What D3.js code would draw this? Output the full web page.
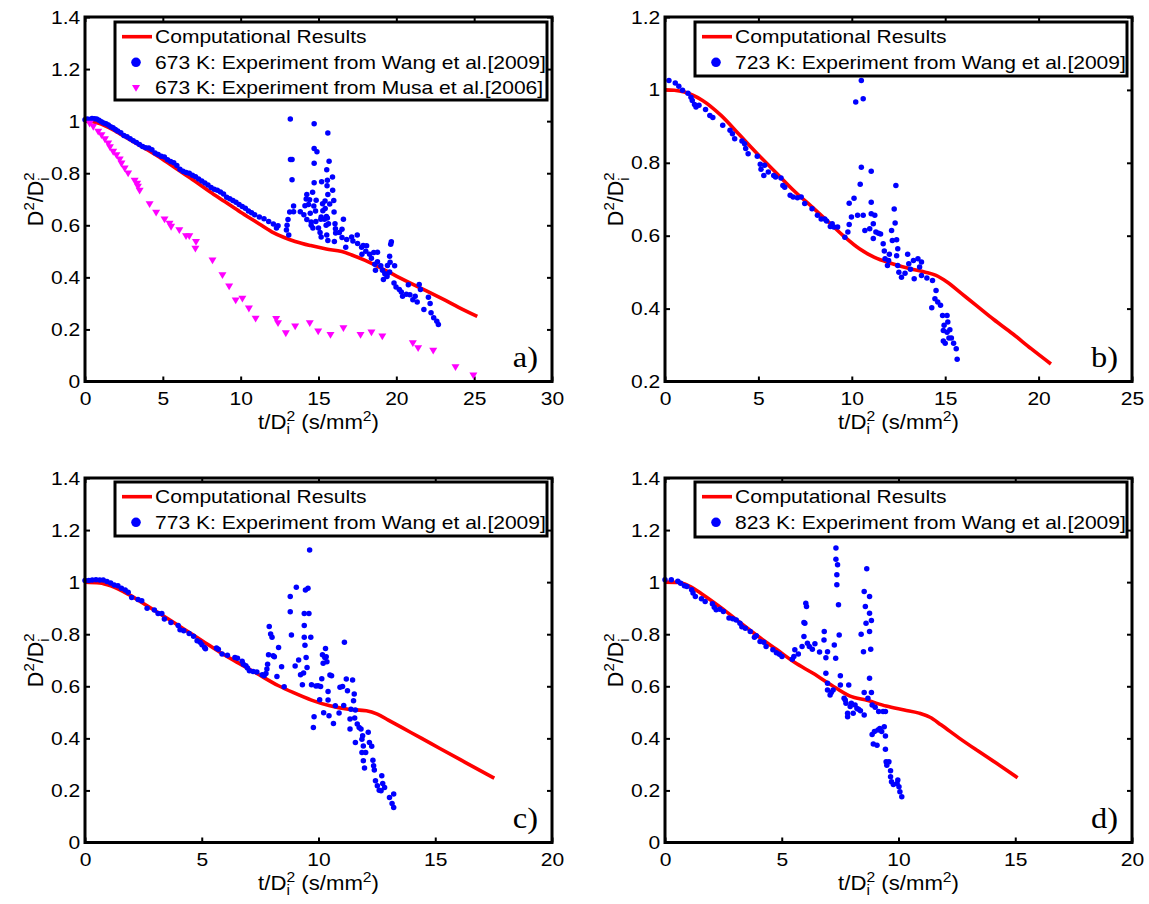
<!DOCTYPE html>
<html><head><meta charset="utf-8">
<script src="https://cdn.jsdelivr.net/npm/d3@7"></script>
<style>body{margin:0;background:#fff}svg text{font-family:"Liberation Sans",Arial,Helvetica,sans-serif;fill:#000}</style>
</head><body><svg id="c" width="1149" height="904"></svg>
<script>
// ---------- DATA ----------
const xTicksA=[0,5,10,15,20,25,30], yTicksA=[0,0.2,0.4,0.6,0.8,1,1.2,1.4];
const xTicksB=[0,5,10,15,20,25], yTicksB=[0.2,0.4,0.6,0.8,1,1.2];
const xTicksC=[0,5,10,15,20], yTicksC=[0,0.2,0.4,0.6,0.8,1,1.2,1.4];
const xTicksD=[0,5,10,15,20], yTicksD=[0,0.2,0.4,0.6,0.8,1,1.2,1.4];
const panelLabels=["a)","b)","c)","d)"];
const legendA=["Computational Results","673 K: Experiment from Wang et al.[2009]","673 K: Experiment from Musa et al.[2006]"];
const legendB=["Computational Results","723 K: Experiment from Wang et al.[2009]"];
const legendC=["Computational Results","773 K: Experiment from Wang et al.[2009]"];
const legendD=["Computational Results","823 K: Experiment from Wang et al.[2009]"];

const modelA=[[0,1],[0.5,0.998],[1,0.99],[2,0.96],[3,0.925],[4,0.89],[5,0.853],[6,0.812],[7,0.772],[8,0.73],[9,0.69],[10,0.65],[11,0.613],[12,0.575],[12.8,0.553],[13.5,0.538],[14.5,0.522],[15.5,0.509],[16.5,0.499],[17.1,0.487],[18,0.465],[19,0.436],[20,0.405],[21,0.375],[22,0.346],[23,0.316],[24,0.285],[25.2,0.25]];
const modelB=[[0,1],[0.5,0.999],[1.04,0.994],[2.01,0.971],[3,0.93],[4,0.876],[4.94,0.825],[6,0.77],[6.89,0.724],[8,0.673],[8.85,0.633],[9.63,0.596],[10.41,0.564],[11.19,0.541],[12.17,0.523],[13.14,0.509],[13.93,0.5],[14.51,0.491],[15.1,0.473],[15.88,0.441],[16.66,0.409],[17.6,0.37],[18.61,0.331],[19.6,0.29],[20.66,0.248]];
const modelC=[[0,1],[0.63,0.997],[1.1,0.986],[1.88,0.952],[2.66,0.909],[3.5,0.862],[4.23,0.82],[5,0.776],[5.79,0.73],[6.6,0.688],[7.36,0.649],[8.29,0.602],[8.92,0.576],[9.7,0.547],[10.49,0.525],[11.27,0.512],[12.05,0.506],[12.52,0.493],[12.99,0.47],[13.62,0.439],[14.4,0.401],[15.18,0.362],[16.3,0.307],[17.53,0.247]];
const modelD=[[0,1],[0.55,0.999],[1.02,0.986],[1.64,0.951],[2.43,0.9],[3.21,0.845],[4.0,0.791],[4.77,0.742],[5.56,0.691],[6.34,0.65],[7.12,0.605],[7.9,0.563],[8.69,0.545],[9.47,0.524],[10.25,0.509],[10.88,0.497],[11.35,0.481],[11.82,0.452],[12.6,0.401],[13.38,0.353],[14.2,0.304],[15.1,0.249]];

const wangA=[[0,1.005],[0.15,1.008],[0.3,1.006],[0.45,1.01],[0.6,1.009],[0.75,1.008],[0.9,1.003],[1.05,0.998],[1.2,0.993],[1.35,0.99],[1.5,0.985],[1.65,0.978],[1.8,0.975],[1.95,0.968],[2.1,0.962],[2.3,0.955],[2.5,0.945],[2.7,0.94],[2.9,0.932],[3.1,0.925],[3.3,0.918],[3.5,0.91],[3.7,0.903],[3.9,0.898],[4.1,0.897],[4.3,0.89],[4.5,0.878],[4.7,0.872],[4.9,0.865],[5.1,0.862],[5.3,0.852],[5.5,0.845],[5.7,0.84],[5.9,0.83],[6.1,0.815],[6.3,0.808],[6.5,0.803],[6.7,0.8],[6.9,0.792],[7.1,0.786],[7.3,0.778],[7.5,0.77],[7.7,0.762],[7.9,0.755],[8.1,0.745],[8.3,0.738],[8.5,0.735],[8.7,0.728],[8.9,0.72],[9.1,0.708],[9.3,0.702],[9.5,0.695],[9.7,0.688],[9.9,0.68],[10.1,0.672],[10.3,0.665],[10.5,0.655],[10.7,0.648],[10.9,0.64],[11.2,0.632],[11.5,0.625],[11.8,0.615],[12.1,0.605],[12.3,0.59],[12.4,0.598],
[13.19,1.008],[14.72,0.99],[15.6,0.954],[13.2,0.853],[13.3,0.853],[14.72,0.895],[14.9,0.882],[14.72,0.838],[15.68,0.846],[15.53,0.813],[13.3,0.775],[14.72,0.763],[15.57,0.773],[15.9,0.785],[15.2,0.767],[15.55,0.752],[15.91,0.735],[15.6,0.718],[15.98,0.695],[15.72,0.682],[14.62,0.727],[14.25,0.718],[14.21,0.701],[14.43,0.698],[14.85,0.696],[15.42,0.693],[15.26,0.683],[13.4,0.674],[14.13,0.675],[14.36,0.68],[14.7,0.674],[14.81,0.655],[15.28,0.656],[15.43,0.664],[13.15,0.651],[13.4,0.652],[13.83,0.652],[14.06,0.64],[14.47,0.646],[15.17,0.632],[15.51,0.634],[16.0,0.651],[13.04,0.622],[14.25,0.622],[14.53,0.613],[14.83,0.615],[15.15,0.623],[15.38,0.623],[15.57,0.628],[16.6,0.623],[12.98,0.6],[12.94,0.582],[14.53,0.6],[14.64,0.59],[15.0,0.59],[15.49,0.6],[15.64,0.606],[16.06,0.606],[13.09,0.563],[15.1,0.572],[15.53,0.563],[15.6,0.542],[16.09,0.587],[16.1,0.57],[16.34,0.572],[16.51,0.585],[16.02,0.538],[15.17,0.555],
[16.51,0.553],[16.81,0.545],[16.75,0.516],[17.13,0.555],[17.49,0.563],[17.21,0.54],[17.51,0.53],[17.77,0.516],[17.87,0.522],[18.09,0.521],[17.79,0.489],[18.04,0.5],[18.28,0.489],[18.4,0.473],[18.55,0.495],[18.79,0.496],[18.62,0.45],[18.79,0.46],[19.0,0.445],[18.66,0.427],[19.11,0.427],[19.26,0.414],[19.43,0.446],[19.6,0.458],[19.89,0.445],[19.57,0.481],[19.64,0.527],[19.68,0.537],[19.4,0.412],[19.57,0.421],[19.17,0.392],[19.4,0.403],[19.85,0.378],[19.98,0.363],[20.19,0.353],[20.32,0.344],[20.4,0.327],[20.64,0.335],[20.77,0.372],[20.87,0.333],[21.06,0.314],[21.21,0.327],[21.34,0.305],[21.47,0.373],[21.55,0.353],[21.77,0.277],[22.06,0.324],[22.17,0.3],[22.23,0.264],[22.4,0.245],[22.6,0.231],[22.7,0.219]];

const musaA=[[0.3,0.99],[0.53,0.978],[0.85,0.959],[1.06,0.946],[1.28,0.93],[1.49,0.914],[1.6,0.9],[1.81,0.882],[2.02,0.869],[2.23,0.853],[2.34,0.837],[2.55,0.818],[2.77,0.799],[3.19,0.771],[3.35,0.76],[3.4,0.748],[3.51,0.733],[4.15,0.681],[4.57,0.648],[5.11,0.622],[5.43,0.606],[5.53,0.594],[6.06,0.581],[6.49,0.558],[6.7,0.558],[7.13,0.536],[7.09,0.51],[8.19,0.465],[8.83,0.408],[9.26,0.365],[9.68,0.311],[10.11,0.318],[10.53,0.28],[10.96,0.241],[12.28,0.24],[12.4,0.224],[12.9,0.185],[13.5,0.211],[14.44,0.224],[14.98,0.192],[15.77,0.179],[16.6,0.205],[17.7,0.179],[18.4,0.188],[19.1,0.173],[21.06,0.147],[21.4,0.128],[22.37,0.118],[23.8,0.055],[24.95,0.023]];

const wangB=[[0.21,1.026],[0.55,1.019],[0.74,1.01],[0.94,0.999],[1.23,0.991],[1.39,0.98],[1.46,0.971],[1.58,0.96],[1.66,0.953],[1.82,0.958],[2.17,0.946],[2.4,0.93],[2.56,0.924],[3.09,0.903],[3.48,0.889],[3.61,0.88],[3.73,0.866],[4.12,0.86],[4.26,0.852],[4.32,0.839],[4.45,0.825],[4.94,0.818],[5.1,0.796],[5.14,0.782],[5.29,0.765],[5.33,0.793],[5.53,0.775],[5.82,0.765],[5.92,0.761],[6.21,0.758],[6.31,0.738],[6.41,0.733],[6.7,0.711],[6.86,0.706],[7.09,0.704],[7.29,0.706],[7.48,0.688],[7.87,0.674],[8.16,0.656],[8.36,0.646],[8.55,0.646],[8.65,0.64],[8.85,0.625],[8.95,0.633],[9.04,0.624],[9.24,0.624],[9.63,0.596],[9.79,0.61],[9.86,0.631],[9.98,0.651],[9.86,0.689],[10.12,0.703],[10.31,0.656],[10.61,0.656],[10.7,0.614],[10.96,0.619],[10.45,0.741],[10.51,0.788],[11.04,0.777],[11.04,0.692],[11.04,0.66],[11.15,0.633],[11.15,0.592],[11.23,0.656],[11.29,0.61],[11.43,0.607],[11.54,0.605],[11.68,0.578],[11.74,0.558],[11.78,0.537],[11.91,0.518],[11.97,0.532],[12.01,0.549],[12.13,0.614],[12.17,0.587],[12.27,0.673],[12.32,0.635],[12.36,0.738],[12.4,0.589],[12.4,0.545],[12.46,0.564],[12.46,0.518],[12.52,0.5],[12.66,0.486],[12.85,0.497],[12.99,0.549],[13.05,0.523],[13.14,0.508],[13.3,0.532],[13.34,0.482],[13.54,0.537],[13.63,0.514],[13.73,0.528],[13.73,0.491],[14.02,0.484],[14.32,0.477],[14.28,0.402],[14.51,0.45],[14.45,0.427],[14.6,0.418],[14.75,0.409],[14.86,0.381],[14.94,0.354],[14.9,0.34],[14.9,0.311],[15.0,0.305],[15.1,0.381],[15.14,0.363],[15.1,0.335],[15.25,0.342],[15.2,0.319],[15.33,0.319],[15.45,0.305],[15.59,0.29],[15.64,0.261],[10.21,0.967],[10.61,0.976],[10.51,1.026]];

const wangC=[[0,1.006],[0.16,1.006],[0.31,1.008],[0.47,1.009],[0.63,1.008],[0.78,1.008],[0.94,1.002],[1.1,0.997],[1.25,0.989],[1.41,0.986],[1.56,0.977],[1.72,0.97],[1.85,0.961],[2.0,0.941],[2.27,0.933],[2.43,0.929],[2.66,0.9],[2.97,0.893],[3.13,0.88],[3.29,0.88],[3.4,0.858],[3.68,0.845],[3.99,0.833],[4.07,0.817],[4.23,0.813],[4.46,0.803],[4.65,0.792],[4.8,0.775],[4.93,0.769],[5.01,0.76],[5.12,0.749],[5.16,0.744],[5.63,0.747],[5.71,0.742],[5.87,0.724],[6.1,0.719],[6.42,0.711],[6.53,0.708],[6.73,0.696],[6.78,0.685],[6.89,0.679],[6.96,0.67],[7.04,0.66],[7.2,0.657],[7.36,0.655],[7.59,0.644],[7.67,0.64],[7.75,0.649],[7.82,0.685],[7.79,0.666],[7.86,0.721],[7.89,0.83],[7.95,0.801],[8.01,0.788],[8.06,0.717],[8.11,0.713],[8.22,0.638],[8.29,0.749],[8.42,0.675],[8.53,0.598],[8.79,0.945],[8.79,0.886],[8.84,0.797],[9.0,0.678],[9.05,0.98],[9.15,0.701],[9.23,0.644],[9.31,0.606],[9.36,0.651],[9.39,0.833],[9.39,0.88],[9.39,0.788],[9.42,0.758],[9.44,0.97],[9.47,0.711],[9.51,0.672],[9.55,0.977],[9.59,0.88],[9.62,1.123],[9.67,0.788],[9.7,0.606],[9.78,0.442],[9.81,0.483],[9.89,0.601],[9.98,0.602],[10.05,0.548],[10.09,0.599],[10.14,0.629],[10.17,0.721],[10.2,0.688],[10.22,0.498],[10.27,0.711],[10.3,0.745],[10.33,0.713],[10.36,0.694],[10.41,0.58],[10.41,0.547],[10.45,0.487],[10.49,0.643],[10.56,0.64],[10.64,0.457],[10.72,0.525],[10.88,0.497],[10.92,0.596],[11.03,0.599],[11.08,0.526],[11.11,0.769],[11.19,0.628],[11.24,0.583],[11.35,0.436],[11.35,0.474],[11.39,0.512],[11.46,0.624],[11.5,0.544],[11.53,0.57],[11.55,0.478],[11.58,0.509],[11.58,0.384],[11.66,0.455],[11.74,0.442],[11.82,0.436],[11.86,0.397],[11.86,0.346],[11.89,0.41],[11.92,0.371],[11.92,0.314],[11.97,0.286],[12.02,0.346],[12.13,0.423],[12.18,0.384],[12.28,0.37],[12.33,0.316],[12.36,0.295],[12.39,0.278],[12.44,0.237],[12.52,0.218],[12.6,0.201],[12.68,0.199],[12.71,0.256],[12.75,0.227],[12.83,0.211],[13.04,0.173],[13.15,0.15],[13.22,0.186],[13.22,0.134]];

const wangD=[[0,1.009],[0.27,1.009],[0.55,1.003],[0.67,0.996],[0.83,0.986],[0.94,0.983],[1.14,0.971],[1.2,0.958],[1.3,0.945],[1.56,0.936],[1.72,0.926],[2.03,0.917],[2.11,0.904],[2.19,0.894],[2.35,0.896],[2.5,0.887],[2.74,0.862],[2.9,0.859],[3.05,0.855],[3.21,0.842],[3.29,0.829],[3.44,0.823],[3.65,0.81],[3.83,0.788],[3.91,0.794],[4.07,0.772],[4.23,0.769],[4.33,0.753],[4.62,0.74],[4.77,0.729],[4.9,0.723],[5.01,0.714],[5.45,0.704],[5.52,0.714],[5.56,0.74],[5.71,0.724],[5.87,0.753],[5.95,0.845],[5.99,0.842],[6.03,0.919],[6.06,0.906],[5.95,0.791],[6.1,0.765],[6.18,0.753],[6.31,0.742],[6.42,0.763],[6.62,0.732],[6.81,0.778],[6.82,0.81],[6.89,0.71],[6.96,0.733],[6.89,0.65],[6.96,0.612],[6.96,0.586],[7.07,0.567],[7.12,0.576],[7.2,0.586],[7.25,0.759],[7.31,0.708],[7.32,1.131],[7.32,1.088],[7.36,1.028],[7.36,0.99],[7.39,1.067],[7.43,0.913],[7.46,0.797],[7.51,0.64],[7.51,0.605],[7.67,0.554],[7.72,0.547],[7.75,0.535],[7.82,0.496],[7.82,0.483],[7.87,0.605],[7.93,0.522],[7.98,0.535],[8.06,0.496],[8.14,0.528],[8.22,0.515],[8.29,0.512],[8.37,0.506],[8.4,0.8],[8.5,0.733],[8.53,0.576],[8.53,0.49],[8.53,0.964],[8.58,0.906],[8.61,0.842],[8.64,1.051],[8.69,0.554],[8.76,0.945],[8.76,0.881],[8.76,0.81],[8.76,0.631],[8.81,0.742],[8.84,0.853],[8.84,0.576],[8.87,0.528],[8.87,0.415],[8.92,0.378],[8.97,0.426],[9.0,0.519],[9.08,0.374],[9.12,0.432],[9.15,0.503],[9.2,0.438],[9.28,0.426],[9.34,0.503],[9.39,0.445],[9.44,0.503],[9.44,0.409],[9.44,0.358],[9.47,0.31],[9.5,0.297],[9.59,0.31],[9.66,0.276],[9.66,0.253],[9.7,0.233],[9.78,0.223],[9.94,0.227],[9.97,0.24],[10.02,0.214],[10.06,0.195],[10.14,0.176]];

// ---------- LAYOUT ----------
const FS=18.8, SX=1.12;
const panels=[
 {box:{l:85,r:552,t:17,b:381.5},xd:[0,30],yd:[0,1.4],xt:xTicksA,yt:yTicksA,model:modelA,wang:wangA,musa:musaA,legend:legendA,lg:{x:115,y:22,w:432,h:78},label:panelLabels[0]},
 {box:{l:665,r:1132,t:17,b:381.5},xd:[0,25],yd:[0.2,1.2],xt:xTicksB,yt:yTicksB,model:modelB,wang:wangB,musa:null,legend:legendB,lg:{x:695,y:22,w:432,h:54},label:panelLabels[1]},
 {box:{l:85,r:552,t:478,b:842.5},xd:[0,20],yd:[0,1.4],xt:xTicksC,yt:yTicksC,model:modelC,wang:wangC,musa:null,legend:legendC,lg:{x:115,y:482,w:432,h:54},label:panelLabels[2]},
 {box:{l:665,r:1132,t:478,b:842.5},xd:[0,20],yd:[0,1.4],xt:xTicksD,yt:yTicksD,model:modelD,wang:wangD,musa:null,legend:legendD,lg:{x:695,y:482,w:432,h:55},label:panelLabels[3]}
];
const RED="#ff0000", BLUE="#0000ff", MAG="#ff00ff";
const svg=d3.select("#c");
const tri=(s)=>`M${-s},${-s*0.75}L${s},${-s*0.75}L0,${s*0.95}Z`;

function styleAxis(g){
  g.select(".domain").remove();
  g.selectAll(".tick line").attr("stroke","#000").attr("stroke-width",2);
  g.attr("font-size",FS).attr("font-family",null);
}

panels.forEach(p=>{
  const B=p.box, g=svg.append("g");
  const x=d3.scaleLinear().domain(p.xd).range([B.l,B.r]);
  const y=d3.scaleLinear().domain(p.yd).range([B.b,B.t]);
  const fmt=d=>String(+d.toFixed(2));
  const gb=g.append("g").attr("transform",`translate(0,${B.b})`)
    .call(d3.axisBottom(x).tickValues(p.xt).tickFormat(fmt).tickSizeInner(-5).tickSizeOuter(0).tickPadding(10.2));
  styleAxis(gb); gb.selectAll("text").attr("transform",`scale(${SX},1)`);
  const gl=g.append("g").attr("transform",`translate(${B.l},0)`)
    .call(d3.axisLeft(y).tickValues(p.yt).tickFormat(fmt).tickSizeInner(-5).tickSizeOuter(0).tickPadding(4.3));
  styleAxis(gl); gl.selectAll("text").attr("transform",`scale(${SX},1)`);
  const gt=g.append("g").attr("transform",`translate(0,${B.t})`)
    .call(d3.axisTop(x).tickValues(p.xt).tickFormat("").tickSizeInner(-5).tickSizeOuter(0));
  styleAxis(gt);
  const gr=g.append("g").attr("transform",`translate(${B.r},0)`)
    .call(d3.axisRight(y).tickValues(p.yt).tickFormat("").tickSizeInner(-5).tickSizeOuter(0));
  styleAxis(gr);

  const line=d3.line().x(d=>x(d[0])).y(d=>y(d[1])).curve(d3.curveMonotoneX);
  g.append("path").datum(p.model).attr("d",line).attr("fill","none").attr("stroke",RED).attr("stroke-width",3.6);
  g.append("g").selectAll("circle").data(p.wang).join("circle")
    .attr("cx",d=>x(d[0])).attr("cy",d=>y(d[1])).attr("r",2.75).attr("fill",BLUE);
  if(p.musa){
    g.append("g").selectAll("path").data(p.musa).join("path")
      .attr("transform",d=>`translate(${x(d[0])},${y(d[1])})`).attr("d",tri(4)).attr("fill",MAG);
  }
  g.append("rect").attr("x",B.l).attr("y",B.t).attr("width",B.r-B.l).attr("height",B.b-B.t)
    .attr("fill","none").attr("stroke","#000").attr("stroke-width",3);

  const L=p.lg, lgG=g.append("g");
  lgG.append("rect").attr("x",L.x).attr("y",L.y).attr("width",L.w).attr("height",L.h)
    .attr("fill","#fff").attr("stroke","#000").attr("stroke-width",3);
  p.legend.forEach((txt,i)=>{
    const ry=L.y+14.7+i*25.6;
    if(i===0) lgG.append("line").attr("x1",L.x+7).attr("x2",L.x+37).attr("y1",ry).attr("y2",ry).attr("stroke",RED).attr("stroke-width",3.6);
    else if(i===1) lgG.append("circle").attr("cx",L.x+21).attr("cy",ry).attr("r",4.8).attr("fill",BLUE);
    else lgG.append("path").attr("transform",`translate(${L.x+21},${ry})`).attr("d",tri(4)).attr("fill",MAG);
    lgG.append("text").attr("transform",`translate(${L.x+40},${ry}) scale(${SX},1)`).attr("dy","0.35em")
      .attr("font-size",FS).text(txt);
  });

  g.append("text").attr("transform",`translate(${B.r-14},${B.b-15}) scale(${SX},1)`)
    .attr("text-anchor","end").attr("font-size",29).style("font-family","'Liberation Serif','Times New Roman',serif").text(p.label);

  const xt=g.append("text").attr("transform",`translate(${(B.l+B.r)/2},${B.b+47}) scale(${SX},1)`)
    .attr("text-anchor","middle").attr("font-size",19.8);
  xt.append("tspan").text("t/D");
  xt.append("tspan").attr("font-size",14).attr("dy",5.5).text("i");
  xt.append("tspan").attr("font-size",14).attr("dx",-3.1).attr("dy",-13.5).text("2");
  xt.append("tspan").attr("dy",8).text(" (s/mm");
  xt.append("tspan").attr("font-size",14).attr("dy",-8).text("2");
  xt.append("tspan").attr("dy",8).text(")");

  const yt=g.append("text").attr("transform",`translate(${B.l-42},${(B.t+B.b)/2}) rotate(-90)`)
    .attr("text-anchor","middle").attr("font-size",21.5);
  yt.append("tspan").text("D");
  yt.append("tspan").attr("font-size",15).attr("dy",-9).text("2");
  yt.append("tspan").attr("dy",9).text("/D");
  yt.append("tspan").attr("font-size",15).attr("dy",5.5).text("i");
  yt.append("tspan").attr("font-size",15).attr("dx",-3.3).attr("dy",-14.5).text("2");
});
</script></body></html>
